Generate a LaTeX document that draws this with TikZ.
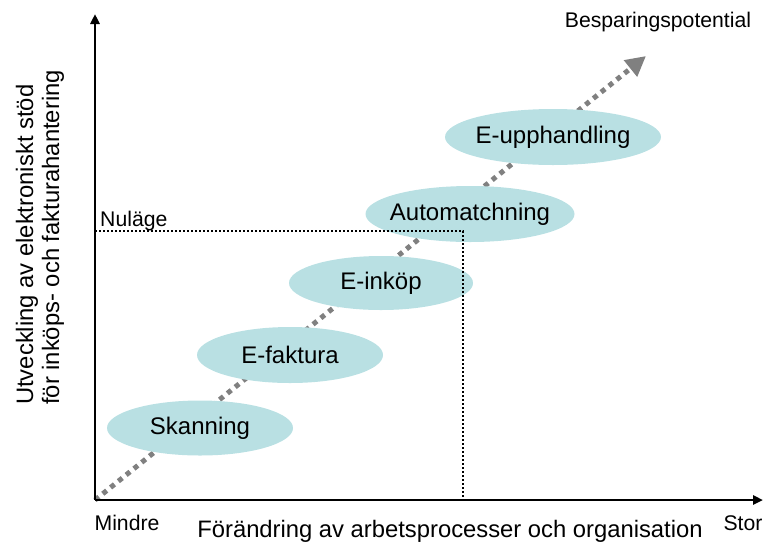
\documentclass[tikz,border=0pt]{standalone}
\usepackage{fontspec}
\setmainfont{Liberation Sans}
\usetikzlibrary{arrows.meta,shapes.geometric}
\definecolor{ellfill}{RGB}{185,224,227}
\definecolor{potgray}{RGB}{128,128,128}
\begin{document}
\begin{tikzpicture}[x=1pt,y=-1pt,
  stage/.style={ellipse,fill=ellfill,draw=none,inner xsep=-30pt,inner ysep=0pt,font=\fontsize{24}{26}\selectfont},
  axis/.style={line width=2.8pt,-{Triangle[length=10pt,width=9pt]}},
  potential/.style={line width=5pt,potgray,dash pattern=on 5pt off 5pt,-{Triangle[length=20pt,width=20pt]}},
  guide/.style={line width=1.6pt,dash pattern=on 1.6pt off 2.4pt},
  small/.style={font=\fontsize{21.2}{24}\selectfont,inner sep=0pt},
  big/.style={font=\fontsize{23.8}{28}\selectfont,inner sep=0pt}]
\useasboundingbox (0,0) rectangle (765,542);
\coordinate (O) at (95,500);
\coordinate (Ytop) at (95,14);
\coordinate (Xend) at (763,500);
\coordinate (Ptip) at (646,56);
\coordinate (N0) at (95,231);
\coordinate (N1) at (463,231);
\coordinate (N2) at (463,500);
% potential arrow
\draw[potential] (O) -- (Ptip);
% stages
\node[stage,minimum width=186pt,minimum height=55pt] (skan) at (200,428) {Skanning};
\node[stage,minimum width=186pt,minimum height=56pt] (efak) at (290,355) {E-faktura};
\node[stage,minimum width=184pt,minimum height=54pt] (einko) at (381,283) {E-inköp};
\node[stage,minimum width=209pt,minimum height=56pt] (auto) at (470,214) {Automatchning};
\node[stage,minimum width=216pt,minimum height=56pt] (eupp) at (553,137) {E-upphandling};
% Nuläge guide
\draw[guide] (N0) -- (N1) -- (N2);
\node[small,anchor=base west] (nul) at (100,226) {Nuläge};
% axes
\draw[axis] (O) -- (Ytop);
\draw[axis] (O) -- (Xend);
% labels
\node[small] (besp) at (658,22) {Besparingspotential};
\node[small,anchor=base] (mindre) at (127,530) {Mindre};
\node[small,anchor=base] (stor) at (743,530) {Stor};
\node[big,anchor=base] (xlab) at (450,537) {Förändring av arbetsprocesser och organisation};
\node[big,anchor=base west,rotate=90] (ylab1) at (33,405) {Utveckling av elektroniskt stöd};
\node[big,anchor=base west,rotate=90] (ylab2) at (59,405) {för inköps- och fakturahantering};
\end{tikzpicture}
\end{document}
